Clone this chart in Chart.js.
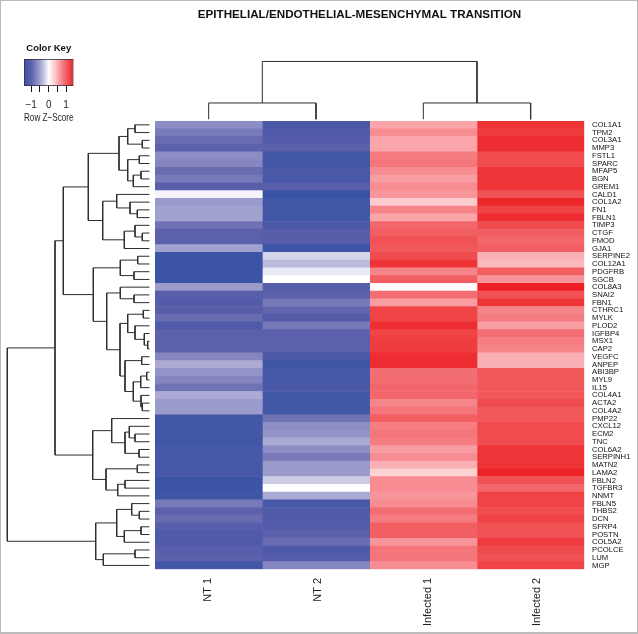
<!DOCTYPE html>
<html><head><meta charset="utf-8">
<script src="https://cdn.jsdelivr.net/npm/chart.js@4"></script>
<style>
html,body{margin:0;padding:0;background:#fff;overflow:hidden}
#wrap{position:relative;width:638px;height:634px}
canvas{position:absolute;left:0;top:0;display:block}
#frame{position:absolute;left:0;top:0;width:638px;height:634px;box-sizing:border-box;border:solid #bbb;border-width:1px 1px 2px 1px;pointer-events:none}
</style></head><body>
<div id="wrap"><canvas id="main" width="638" height="634"></canvas><canvas id="key" width="100" height="87" style="top:38px"></canvas><div id="frame"></div></div>
<script>
const titleText = "EPITHELIAL/ENDOTHELIAL-MESENCHYMAL TRANSITION";
const samples = ["NT 1","NT 2","Infected 1","Infected 2"];
const genes = ["COL1A1","TPM2","COL3A1","MMP3","FSTL1","SPARC","MFAP5","BGN","GREM1","CALD1","COL1A2","FN1","FBLN1","TIMP3","CTGF","FMOD","GJA1","SERPINE2","COL12A1","PDGFRB","SGCB","COL8A3","SNAI2","FBN1","CTHRC1","MYLK","PLOD2","IGFBP4","MSX1","CAP2","VEGFC","ANPEP","ABI3BP","MYL9","IL15","COL4A1","ACTA2","COL4A2","PMP22","CXCL12","ECM2","TNC","COL6A2","SERPINH1","MATN2","LAMA2","FBLN2","TGFBR3","NNMT","FBLN5","THBS2","DCN","SFRP4","POSTN","COL5A2","PCOLCE","LUM","MGP"];
const nt1 = [-0.65,-0.8,-0.9,-1.0,-0.65,-0.7,-0.9,-0.8,-1.05,-0.05,-0.55,-0.5,-0.5,-0.85,-1.0,-1.0,-0.5,-1.4,-1.4,-1.4,-1.4,-0.55,-1.05,-1.1,-1.05,-0.9,-1.15,-1.0,-1.0,-1.0,-0.7,-0.45,-0.6,-0.7,-0.85,-0.45,-0.55,-0.55,-1.3,-1.3,-1.3,-1.35,-1.25,-1.25,-1.25,-1.25,-1.4,-1.4,-1.35,-0.8,-1.0,-0.9,-1.05,-1.15,-1.15,-1.05,-1.0,-1.3];
const nt2 = [-1.2,-1.15,-1.1,-1.0,-1.3,-1.3,-1.2,-1.25,-1.05,-1.45,-1.3,-1.3,-1.3,-1.2,-1.05,-1.05,-1.4,-0.2,-0.35,-0.1,0,-1.05,-1.0,-0.8,-0.95,-1.1,-0.8,-1.0,-1.0,-1.0,-1.2,-1.35,-1.25,-1.25,-1.2,-1.3,-1.3,-1.3,-0.85,-0.65,-0.6,-0.45,-0.65,-0.8,-0.55,-0.55,-0.25,0,-0.45,-1.25,-1.15,-1.15,-1.1,-1.0,-0.9,-1.2,-1.1,-0.7];
const inf1 = [0.55,0.7,0.55,0.55,0.8,0.85,0.7,0.6,0.7,0.65,0.35,0.75,0.55,0.95,1.0,1.1,1.05,1.15,1.3,0.75,1.0,0.03,0.9,0.6,1.2,1.2,1.35,1.2,1.25,1.25,1.35,1.35,0.9,0.9,0.95,0.95,0.75,0.85,1.0,0.8,0.85,0.8,0.6,0.7,0.5,0.3,0.7,0.7,0.65,0.7,0.9,0.8,1.0,1.0,0.65,0.85,0.85,0.7];
const inf2 = [1.3,1.25,1.35,1.35,1.15,1.15,1.3,1.3,1.3,1.1,1.4,1.2,1.35,1.15,1.0,0.95,1.0,0.5,0.45,1.0,0.65,1.45,1.1,1.3,0.75,0.8,0.6,0.9,0.8,0.75,0.5,0.5,1.05,1.05,1.05,1.05,1.15,1.05,1.05,1.15,1.15,1.15,1.3,1.3,1.3,1.42,1.1,0.95,1.2,1.2,1.15,1.2,1.1,1.1,1.25,1.15,1.1,1.2];
const zStops = [-1.45,-1.3,-1.15,-1.0,-0.85,-0.7,-0.55,-0.4,-0.2,0,0.1,0.2,0.4,0.55,0.7,0.85,1.0,1.15,1.3,1.45];
const zColors = ["#3953a4","#4257a6","#4f5aa8","#5d60ab","#7072b5","#8586c0","#9a9acb","#b3b2da","#d5d4ea","#ffffff","#fff0ef","#fde0df","#fbc4c7","#f9a5aa","#f78d92","#f4757a","#f25f63","#f04b4e","#ee3437","#ec2024"];
// Cluster merges: [childA, childB, height]; a child >= 0 is a leaf, -k is the k-th merge (1-based)
const rowMerges = [[0,1,20],[2,3,12.7],[-1,-2,27.3],[4,5,15.7],[6,7,14],[-5,8,21.7],[-4,-6,27.3],[-3,-7,36],[11,12,17.7],[10,-9,25],[9,-10,38.3],[14,15,12.7],[13,-12,20],[-13,16,30.7],[-11,-14,52.3],[-8,-15,66.7],[17,18,17.3],[19,20,21],[-17,-18,34.7],[22,23,21],[21,-20,34.7],[24,25,11.7],[28,29,7.3],[27,-23,10.7],[26,-24,20],[-22,-25,27.3],[30,31,13.3],[32,33,8.3],[-28,34,14.3],[36,37,12.7],[35,-30,14],[-29,-31,21.7],[-27,-32,30],[-26,-33,35],[-21,-34,48.3],[-19,-35,61.7],[-16,-36,91.7],[40,41,20],[39,-38,25.7],[42,43,16],[-39,-40,30],[38,-41,43.3],[44,45,17.7],[46,47,30],[-44,48,37.3],[-43,-45,49],[-42,-46,62.3],[-37,-47,100],[50,51,15.7],[49,-49,23.3],[52,53,14],[-51,54,30.7],[-50,-52,38.3],[55,56,20],[-54,57,51.7],[-53,-55,59.3],[-48,-56,147.7]];
const rowLeafHeight = 5.5;
const colMerges = [[0,1,18],[2,3,18],[-1,-2,59.5]];
const colLeafHeight = 1.7;
const keyTicks = [-1,-0.5,0,0.5,1];
const keyRange = [-1.41,1.42];
const sampleLabelAt = [0.495,1.517,2.54,3.56];

function hex(c){return [1,3,5].map(i=>parseInt(c.substr(i,2),16));}
function zColor(z){
  if(z<=zStops[0]) return zColors[0];
  for(let i=1;i<zStops.length;i++){
    if(z<=zStops[i]){
      const t=(z-zStops[i-1])/(zStops[i]-zStops[i-1]),a=hex(zColors[i-1]),b=hex(zColors[i]);
      return 'rgb('+a.map((v,k)=>Math.round(v+(b[k]-v)*t)).join(',')+')';
    }
  }
  return zColors[zColors.length-1];
}
function dendro(merges,leafH,offset){
  const nodes=[],out=[];
  const get=c=>c>=0?{p:c+offset,h:leafH}:nodes[-c-1];
  merges.forEach(([a,b,h])=>{
    const A=get(a),B=get(b);
    out.push({h:A.h,p:A.p},{h:h,p:A.p},{h:h,p:B.p},{h:B.h,p:B.p},{h:NaN,p:NaN});
    nodes.push({p:(A.p+B.p)/2,h:h});
  });
  return out;
}
Chart.defaults.font.family='"Liberation Sans", Arial, sans-serif';
Chart.defaults.color='#111';
Chart.defaults.animation=false;
const ink='#2e2e2e';
const heatSeries=[nt1,nt2,inf1,inf2];
const heatDatasets=heatSeries.map((vals,c)=>({
  type:'bar',indexAxis:'y',label:samples[c],
  data:vals.map(()=>[c,c+1]),
  backgroundColor:vals.map(zColor),
  borderWidth:0,grouped:false,barPercentage:1,categoryPercentage:1,order:2
}));
const lineStyle={type:'scatter',showLine:true,spanGaps:false,pointRadius:0,pointHoverRadius:0,borderColor:ink,borderWidth:1,tension:0,clip:false,order:1};
new Chart(document.getElementById('main'),{
  type:'bar',
  data:{labels:genes,datasets:[...heatDatasets,
    {...lineStyle,label:'rows',xAxisID:'xRowH',yAxisID:'yRowPos',data:dendro(rowMerges,rowLeafHeight,0).map(n=>({x:n.h,y:n.p}))},
    {...lineStyle,label:'columns',xAxisID:'x',yAxisID:'yColH',data:dendro(colMerges,colLeafHeight,0.5).map(n=>({x:n.p,y:n.h}))}
  ]},
  options:{
    responsive:false,animation:false,events:[],
    layout:{padding:{left:81,right:0,top:0,bottom:0}},
    plugins:{legend:{display:false},tooltip:{enabled:false},
      title:{display:true,text:titleText,color:'#111',font:{size:11.65,weight:'bold'},padding:{top:8,bottom:99}}},
    scales:{
      x:{type:'linear',position:'bottom',offset:false,min:0,max:4,grid:{display:false,drawTicks:false},border:{display:false},
        afterBuildTicks:s=>{s.ticks=sampleLabelAt.map(v=>({value:v}));},
        afterFit:s=>{s.height=64.7;},
        ticks:{autoSkip:false,minRotation:90,maxRotation:90,padding:8.5,color:'#222',font:{size:11},
          callback:(v,i)=>samples[i]}},
      y:{type:'category',position:'right',offset:true,grid:{display:false,drawTicks:false},border:{display:false},
        afterFit:s=>{s.width=53.7;},
        ticks:{autoSkip:false,padding:7.7,color:'#111',font:{size:7.7}}},
      yRowPos:{type:'linear',position:'left',reverse:true,min:-0.5,max:57.5,grid:{display:false,drawTicks:false},border:{display:false},
        ticks:{display:false},afterFit:s=>{s.width=74;}},
      xRowH:{type:'linear',display:false,offset:false,reverse:true,min:-429.3,max:0},
      yColH:{type:'linear',display:false,min:-448.3,max:0}
    }
  }
});
new Chart(document.getElementById('key'),{
  type:'bar',
  data:{labels:['Row Z-Score'],datasets:[{
    data:[keyRange],indexAxis:'y',grouped:false,barPercentage:1,categoryPercentage:1,
    borderColor:'#2a2a3a',borderWidth:1,borderSkipped:false,
    backgroundColor:ctx=>{
      const sc=ctx.chart.scales.x;
      if(!sc||!ctx.chart.chartArea) return '#fff';
      const g=ctx.chart.ctx.createLinearGradient(sc.left,0,sc.right,0);
      zStops.forEach((z,i)=>{const t=(z-keyRange[0])/(keyRange[1]-keyRange[0]);if(t>=0&&t<=1)g.addColorStop(t,zColors[i]);});
      return g;
    }
  }]},
  options:{
    indexAxis:'y',responsive:false,animation:false,events:[],
    layout:{padding:{left:24,right:26.5,top:0,bottom:0}},
    plugins:{legend:{display:false},tooltip:{enabled:false},
      title:{display:true,text:'Color Key',color:'#111',font:{size:9.5,weight:'bold'},padding:{top:4.3,bottom:5.3}}},
    scales:{
      x:{type:'linear',min:keyRange[0],max:keyRange[1],
        grid:{drawOnChartArea:false,drawTicks:true,tickLength:6,tickColor:'#111',tickWidth:1},border:{display:false},
        afterBuildTicks:s=>{s.ticks=keyTicks.map(v=>({value:v}));},
        afterFit:s=>{s.height=39;},
        ticks:{autoSkip:false,maxRotation:0,minRotation:0,padding:7,color:'#222',font:{size:10},
          callback:v=>Number.isInteger(v)?(v<0?'\u2212'+Math.abs(v):String(v)):''},
        title:{display:true,text:'Row Z\u2212Score',color:'#222',font:{size:11.5},padding:{top:2,bottom:0}}},
      y:{type:'category',display:false,offset:true}
    }
  }
});
</script>
</body></html>
